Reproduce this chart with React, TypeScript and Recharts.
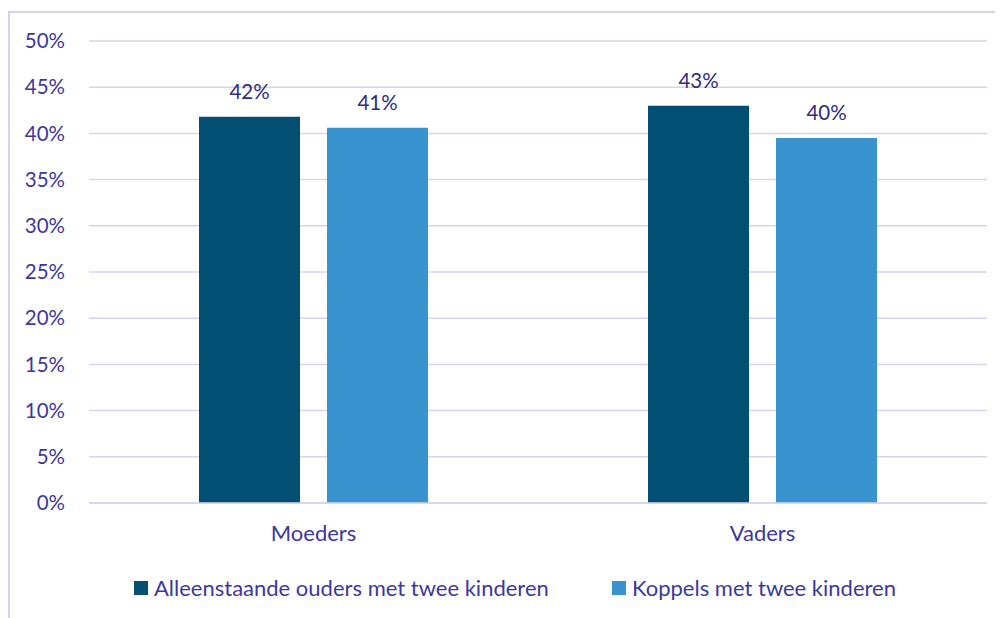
import React from "react";
import { BarChart, Bar, XAxis, YAxis, CartesianGrid, Legend, LabelList } from "recharts";

const categories = ["Moeders", "Vaders"];
const alleenstaande = [41.8, 43.0];
const koppels = [40.6, 39.5];
const yTicks = [0, 5, 10, 15, 20, 25, 30, 35, 40, 45, 50];
const seriesNames = ["Alleenstaande ouders met twee kinderen", "Koppels met twee kinderen"];
const colors = ["#034f73", "#3893cf"];

const data = categories.map((c, i) => ({ name: c, a: alleenstaande[i], k: koppels[i] }));

const FONT = "Lato, 'Open Sans', sans-serif";
const TEXT = "#3d389c";
const LABEL = "#302b80";
const GRID = "#d6d3ef";

const LegendContent = () => (
  <div style={{ display: "flex", fontFamily: FONT, fontSize: 22, color: TEXT, position: "relative", height: 26 }}>
    {seriesNames.map((n, i) => (
      <div key={n} style={{ position: "absolute", left: i === 0 ? 124 : 602, top: 0, display: "flex", alignItems: "center", whiteSpace: "nowrap" }}>
        <span style={{ display: "inline-block", width: 14, height: 14, background: colors[i], marginRight: 6 }} />
        <span>{n}</span>
      </div>
    ))}
  </div>
);

export default function App() {
  return (
    <div style={{ marginTop: 3, width: 1010, height: 620, borderTop: `2px solid ${GRID}`, borderLeft: `2px solid ${GRID}`, boxSizing: "border-box" }}>
      <BarChart
        width={1000}
        height={605}
        data={data}
        margin={{ top: 28, right: 23, left: 0, bottom: 49 }}
        barGap={27}
        barSize={101}
      >
        <CartesianGrid vertical={false} stroke={GRID} strokeWidth={1.5} />
        <XAxis
          dataKey="name"
          axisLine={{ stroke: GRID, strokeWidth: 1.5 }}
          tickLine={false}
          tickSize={0}
          tickMargin={22}
          height={40}
          tick={{ fill: TEXT, fontSize: 22, fontFamily: FONT }}
        />
        <YAxis
          domain={[0, 50]}
          ticks={yTicks}
          tickFormatter={(v: number) => `${v}%`}
          axisLine={false}
          tickLine={false}
          tickSize={0}
          tickMargin={24}
          width={79}
          tick={{ fill: TEXT, fontSize: 20.5, fontFamily: FONT }}
        />
        <Legend content={<LegendContent />} wrapperStyle={{ top: 561, left: 0, width: 1000 }} />
        <Bar dataKey="a" name={seriesNames[0]} fill={colors[0]} isAnimationActive={false}>
          <LabelList dataKey="a" position="top" offset={18} formatter={(v: number) => `${Math.round(v)}%`} fill={LABEL} fontSize={20.5} fontFamily={FONT} />
        </Bar>
        <Bar dataKey="k" name={seriesNames[1]} fill={colors[1]} isAnimationActive={false}>
          <LabelList dataKey="k" position="top" offset={18} formatter={(v: number) => `${Math.round(v)}%`} fill={LABEL} fontSize={20.5} fontFamily={FONT} />
        </Bar>
      </BarChart>
    </div>
  );
}
